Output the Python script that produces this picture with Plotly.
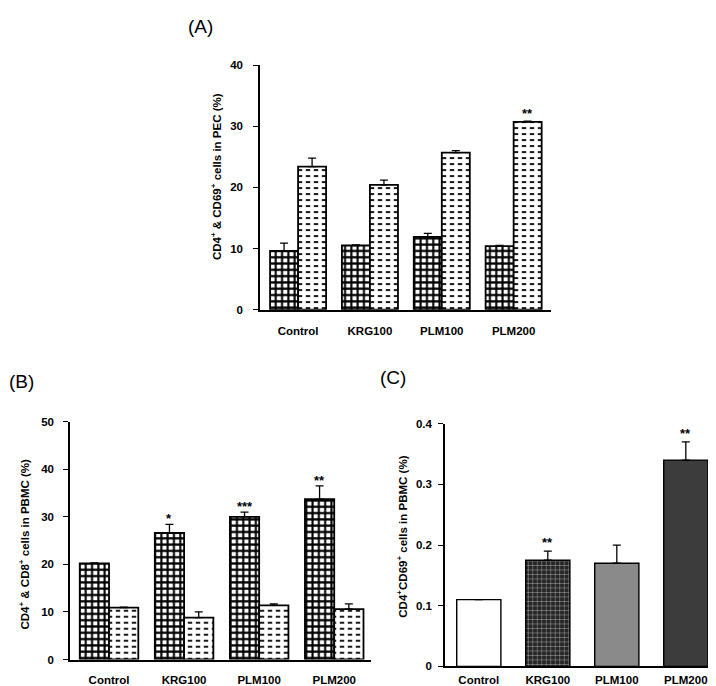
import plotly.graph_objects as go

categories = ["Control", "KRG100", "PLM100", "PLM200"]

# Panel A: CD4+ & CD69+ in PEC (%)
a_cd4 = [9.6, 10.5, 11.9, 10.4]
a_cd4_err = [1.3, 0.1, 0.6, 0.1]
a_cd69 = [23.4, 20.4, 25.7, 30.7]
a_cd69_err = [1.4, 0.8, 0.3, 0.15]
a_marks_cd69 = ["", "", "", "**"]

# Panel B: CD4+ & CD8+ in PBMC (%)
b_cd4 = [20.2, 26.6, 30.0, 33.7]
b_cd4_err = [0.1, 1.8, 1.0, 2.8]
b_cd8 = [10.9, 8.8, 11.4, 10.6]
b_cd8_err = [0.1, 1.2, 0.3, 1.1]
b_marks_cd4 = ["", "*", "***", "**"]

# Panel C: CD4+CD69+ in PBMC (%)
c_vals = [0.11, 0.175, 0.17, 0.34]
c_err = [0.0, 0.015, 0.03, 0.03]
c_marks = ["", "**", "", "**"]

W, H = 716, 686
FONT = "Liberation Sans, Arial, sans-serif"

fig = go.Figure()

BW = 0.39  # width of one bar inside pair


def grid_bar(x, y, err, xa, ya, offset, width):
    fig.add_trace(go.Bar(
        x=x, y=y, xaxis=xa, yaxis=ya, offset=offset, width=width,
        marker=dict(color="white", line=dict(color="black", width=1.8),
                    pattern=dict(shape="+", fgcolor="black", bgcolor="white",
                                 fgopacity=1, size=6.3, solidity=0.55)),
        error_y=dict(type="data", symmetric=False, array=err, arrayminus=[0] * len(err),
                     color="black", thickness=1.3, width=4),
        showlegend=False, hoverinfo="skip"))


def dash_bar(x, y, err, xa, ya, offset, width):
    fig.add_trace(go.Bar(
        x=x, y=y, xaxis=xa, yaxis=ya, offset=offset, width=width,
        marker=dict(color="white", line=dict(width=0),
                    pattern=dict(shape="-", fgcolor="black", bgcolor="white",
                                 fgopacity=1, size=6, solidity=0.3)),
        showlegend=False, hoverinfo="skip"))
    fig.add_trace(go.Bar(
        x=x, y=y, xaxis=xa, yaxis=ya, offset=offset, width=width,
        marker=dict(color="white", opacity=1, line=dict(width=0),
                    pattern=dict(shape="|", fgcolor="white", bgcolor="rgba(255,255,255,0)",
                                 fgopacity=1, size=8, solidity=0.45)),
        showlegend=False, hoverinfo="skip"))
    fig.add_trace(go.Bar(
        x=x, y=y, xaxis=xa, yaxis=ya, offset=offset, width=width,
        marker=dict(color="rgba(0,0,0,0)", line=dict(color="black", width=1.8)),
        error_y=dict(type="data", symmetric=False, array=err, arrayminus=[0] * len(err),
                     color="black", thickness=1.3, width=4),
        showlegend=False, hoverinfo="skip"))


# Panel A
grid_bar(categories, a_cd4, a_cd4_err, "x", "y", -BW, BW)
dash_bar(categories, a_cd69, a_cd69_err, "x", "y", 0, BW)
# Panel B
grid_bar(categories, b_cd4, b_cd4_err, "x2", "y2", -BW, BW)
dash_bar(categories, b_cd8, b_cd8_err, "x2", "y2", 0, BW)

# Panel C
c_colors = ["white", "#262626", "#8a8a8a", "#3c3c3c"]
c_shapes = ["", "+", "", ""]
fig.add_trace(go.Bar(
    x=categories, y=c_vals, xaxis="x3", yaxis="y3", width=0.64,
    marker=dict(color=c_colors, line=dict(color="black", width=1.4),
                pattern=dict(shape=c_shapes, fgcolor="#dddddd", size=4.5, solidity=0.12,
                             fgopacity=1)),
    error_y=dict(type="data", symmetric=False, array=c_err, arrayminus=[0] * 4,
                 color="black", thickness=1.3, width=4),
    showlegend=False, hoverinfo="skip"))

annotations = []
AST = dict(family=FONT, size=13, color="black", weight="bold")
for i, m in enumerate(a_marks_cd69):
    if m:
        annotations.append(dict(x=i + BW / 2, y=a_cd69[i] + a_cd69_err[i], xref="x", yref="y",
                                text=m, showarrow=False, yanchor="bottom", yshift=-2, font=AST))
for i, m in enumerate(b_marks_cd4):
    if m:
        annotations.append(dict(x=i - BW / 2, y=b_cd4[i] + b_cd4_err[i], xref="x2", yref="y2",
                                text=m, showarrow=False, yanchor="bottom", yshift=-4, font=AST))
for i, m in enumerate(c_marks):
    if m:
        annotations.append(dict(x=i, y=c_vals[i] + c_err[i], xref="x3", yref="y3",
                                text=m, showarrow=False, yanchor="bottom", yshift=-1, font=AST))

# panel letters
for txt, px, py in [("(A)", 192, 13), ("(B)", 13, 374), ("(C)", 385, 370)]:
    annotations.append(dict(x=px / W, y=1 - py / H, xref="paper", yref="paper", text=txt,
                            showarrow=False, xanchor="center", yanchor="middle",
                            font=dict(family=FONT, size=19, color="black")))

# y-axis titles
for txt, px, py in [("CD4<sup>+</sup> & CD69<sup>+</sup> cells in PEC (%)", 208, 166),
                    ("CD4<sup>+</sup> & CD8<sup>+</sup> cells in PBMC (%)", 16, 540),
                    ("CD4<sup>+</sup>CD69<sup>+</sup> cells in PBMC (%)", 394, 532)]:
    annotations.append(dict(x=px / W, y=1 - py / H, xref="paper", yref="paper", text=txt,
                            showarrow=False, textangle=-90, xanchor="center", yanchor="middle",
                            font=dict(family=FONT, size=11.5, color="black", weight="bold")))


def xaxis(domain, rng, anchor, standoff):
    return dict(domain=domain, range=rng, anchor=anchor, type="category",
                showline=True, linecolor="black", linewidth=1.5, ticks="",
                showgrid=False, zeroline=False, ticklabelstandoff=standoff,
                tickfont=dict(family=FONT, size=11.5, color="black", weight="bold"))


def yaxis(domain, rng, anchor, vals, texts, standoff):
    return dict(domain=domain, range=rng, anchor=anchor, tickvals=vals, ticktext=texts,
                showline=True, linecolor="black", linewidth=1.5, ticks="outside",
                ticklen=5, tickwidth=1.3, tickcolor="black", showgrid=False, zeroline=False,
                ticklabelstandoff=standoff,
                tickfont=dict(family=FONT, size=11.5, color="black", weight="bold"))


fig.update_layout(
    width=W, height=H, autosize=False,
    margin=dict(l=0, r=0, t=0, b=0),
    paper_bgcolor="white", plot_bgcolor="white",
    barmode="overlay",
    xaxis=xaxis([252 / W, 543 / W], [-0.53, 3.52], "y", 10),
    yaxis=yaxis([1 - 301 / H, 1 - 52 / H], [0, 40], "x",
                [0, 10, 20, 30, 40], ["0", "10", "20", "30", "40"], 8),
    xaxis2=xaxis([62 / W, 363 / W], [-0.52, 3.49], "y2", 9),
    yaxis2=yaxis([1 - 657 / H, 1 - 415 / H], [0, 50], "x2",
                 [0, 10, 20, 30, 40, 50], ["0", "10", "20", "30", "40", "50"], 7),
    xaxis3=xaxis([437 / W, 713 / W], [-0.49, 3.51], "y3", 2),
    yaxis3=yaxis([1 - 664 / H, 1 - 417 / H], [0, 0.4], "x3",
                 [0, 0.1, 0.2, 0.3, 0.4], ["0", "0.1", "0.2", "0.3", "0.4"], 4),
    annotations=annotations,
)

fig.write_html("out.html")
